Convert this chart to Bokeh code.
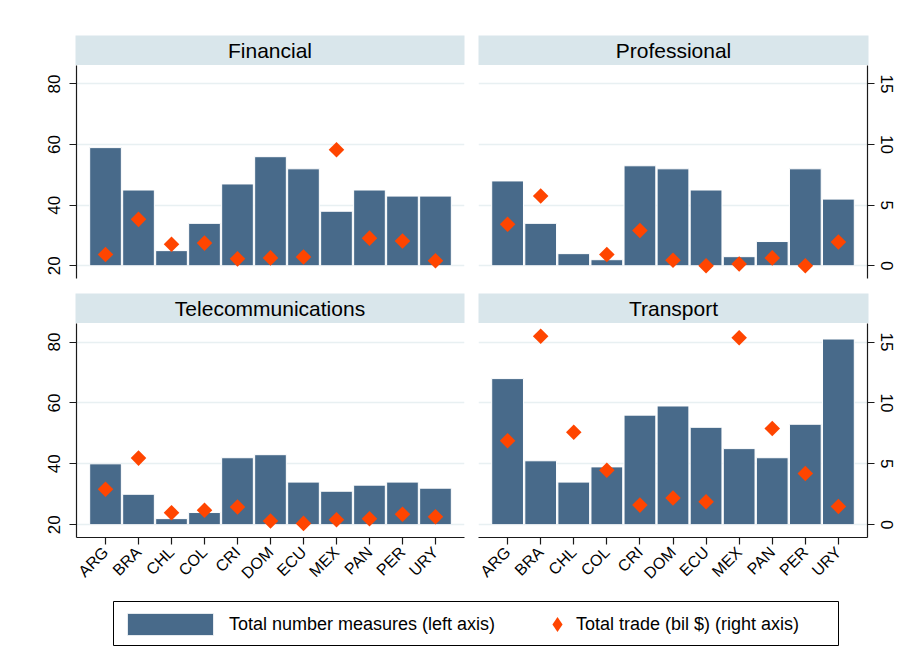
import math
from bokeh.plotting import figure
from bokeh.models import (Range1d, FactorRange, LinearAxis, FixedTicker, Grid,
                          Label, Legend, LegendItem, ColumnDataSource)
from bokeh.layouts import row, column
from bokeh.embed import file_html
from bokeh.resources import INLINE

# ---------------- data ----------------
countries = ["ARG", "BRA", "CHL", "COL", "CRI", "DOM", "ECU", "MEX", "PAN", "PER", "URY"]

financial_measures = [59, 45, 25, 34, 47, 56, 52, 38, 45, 43, 43]
financial_trade = [0.93, 3.83, 1.77, 1.87, 0.57, 0.65, 0.73, 9.57, 2.28, 2.04, 0.41]

professional_measures = [48, 34, 24, 22, 53, 52, 45, 23, 28, 52, 42]
professional_trade = [3.42, 5.76, float("nan"), 0.93, 2.91, 0.46, 0.0, 0.14, 0.65, 0.0, 1.96]

telecom_measures = [40, 30, 22, 24, 42, 43, 34, 31, 33, 34, 32]
telecom_trade = [2.92, 5.47, 0.99, 1.19, 1.46, 0.30, 0.11, 0.41, 0.49, 0.86, 0.66]

transport_measures = [68, 41, 34, 39, 56, 59, 52, 45, 42, 53, 81]
transport_trade = [6.9, 15.47, 7.6, 4.47, 1.61, 2.2, 1.88, 15.36, 7.9, 4.2, 1.5]

left_ticks = [20, 40, 60, 80]
right_ticks = [0, 5, 10, 15]
bar_base = 20

# ---------------- style ----------------
FONT = "Liberation Sans"
BAR = "#486a8a"
DIA = "#ff4500"
HDR = "#d9e6eb"
GRID = "#e8f0f2"
AX = "#1a1a1a"
Y_LO, Y_HI = 15.8, 86.1
T_LO, T_HI = (Y_LO - 20) / 4, (Y_HI - 20) / 4
TICK_FS = "17px"


def header(title, width, left, right, top):
    h = figure(width=width, height=top + 30, x_range=Range1d(0, 1), y_range=Range1d(0, 1),
               x_axis_location=None, y_axis_location=None, toolbar_location=None,
               output_backend="svg", min_border_left=left, min_border_right=right,
               min_border_top=top, min_border_bottom=0, outline_line_color=None,
               background_fill_color=HDR, border_fill_color="white")
    h.xgrid.visible = False
    h.ygrid.visible = False
    h.add_layout(Label(x=0.5, y=0.5, text=title, text_align="center", text_baseline="middle",
                       text_font=FONT, text_font_size="21px", text_color="black"))
    return h


def style_axis(ax, size):
    ax.major_tick_out = 7
    ax.major_tick_in = 0
    ax.minor_tick_out = 0
    ax.minor_tick_in = 0
    ax.axis_line_color = AX
    ax.axis_line_width = 1.2
    ax.major_tick_line_color = AX
    ax.major_tick_line_width = 1.2
    ax.major_label_text_font = FONT
    ax.major_label_text_font_size = size
    ax.major_label_text_color = "black"


def panel(measures, trade, side, bottom_axis, width, left, right, bottom, height):
    src = ColumnDataSource(dict(country=countries, measures=measures, trade=trade))
    p = figure(width=width, height=height,
               x_range=FactorRange(factors=countries, range_padding=0.069),
               y_range=Range1d(Y_LO, Y_HI),
               x_axis_location="below" if bottom_axis else None, y_axis_location=None,
               toolbar_location=None, output_backend="svg",
               min_border_left=left, min_border_right=right, min_border_top=0,
               min_border_bottom=bottom, outline_line_color=None,
               background_fill_color="white", border_fill_color="white")
    p.extra_y_ranges = {"trade": Range1d(T_LO, T_HI)}
    p.xgrid.visible = False
    p.ygrid.visible = False
    p.add_layout(Grid(dimension=1, ticker=FixedTicker(ticks=left_ticks),
                      grid_line_color=GRID, grid_line_width=1.5))
    p.vbar(x="country", top="measures", bottom=bar_base, width=0.96, source=src,
           fill_color=BAR, line_color="white", line_width=1)
    p.scatter(x="country", y="trade", y_range_name="trade", marker="square",
              angle=math.pi / 4, size=11, fill_color=DIA, line_color=None, source=src)
    if side == "left":
        ax = LinearAxis(ticker=FixedTicker(ticks=left_ticks))
        p.add_layout(ax, "left")
        style_axis(ax, TICK_FS)
        ax.major_label_orientation = "vertical"
        ax.major_label_standoff = 9
    else:
        ax = LinearAxis(y_range_name="trade", ticker=FixedTicker(ticks=right_ticks))
        p.add_layout(ax, "right")
        style_axis(ax, TICK_FS)
        ax.major_label_orientation = "vertical"
        ax.major_label_standoff = 6
    if bottom_axis:
        xa = p.xaxis[0]
        style_axis(xa, "16px")
        xa.major_label_orientation = math.pi / 4
        xa.major_label_standoff = 5
    return p


WL, WR = 470, 430

hTL = header("Financial", WL, 75, 6, 35)
hTR = header("Professional", WR, 8, 32, 35)
pTL = panel(financial_measures, financial_trade, "left", False, WL, 76, 6, 15, 228)
pTR = panel(professional_measures, professional_trade, "right", False, WR, 8, 33, 15, 228)
hBL = header("Telecommunications", WL, 75, 6, 0)
hBR = header("Transport", WR, 8, 32, 0)
pBL = panel(telecom_measures, telecom_trade, "left", True, WL, 76, 6, 56, 270)
pBR = panel(transport_measures, transport_trade, "right", True, WR, 8, 33, 56, 270)

# ---------------- legend ----------------
lf = figure(width=WL + WR, height=55, x_range=FactorRange(factors=countries),
            y_range=Range1d(Y_LO, Y_HI),
            x_axis_location=None, y_axis_location=None, toolbar_location=None,
            output_backend="svg", min_border_left=113, min_border_right=WL + WR - 838,
            min_border_top=8, min_border_bottom=3, outline_line_color="black",
            outline_line_width=1, background_fill_color="white", border_fill_color="white")
lf.extra_y_ranges = {"trade": Range1d(T_LO, T_HI)}
lf.xgrid.visible = False
lf.ygrid.visible = False
lsrc = ColumnDataSource(dict(country=countries, measures=telecom_measures, trade=telecom_trade))
rb = lf.vbar(x="country", top="measures", bottom=bar_base, width=0.96, source=lsrc,
             fill_color=BAR, line_color="white", line_width=1, visible=False)
rd = lf.scatter(x="country", y="trade", y_range_name="trade", marker="diamond", size=11,
                fill_color=DIA, line_color=None, source=lsrc, visible=False)

legA = Legend(items=[LegendItem(label="Total number measures (left axis)", renderers=[rb])],
              location=(3, 7), glyph_width=108, glyph_height=28, label_standoff=5,
              padding=0, margin=0, spacing=0, border_line_color=None,
              background_fill_alpha=0, label_text_font=FONT, label_text_font_size="18px",
              label_text_color="black")
legB = Legend(items=[LegendItem(label="Total trade (bil $) (right axis)", renderers=[rd])],
              location=(425, 2), glyph_width=38, glyph_height=38, label_standoff=0,
              padding=0, margin=0, spacing=0, border_line_color=None,
              background_fill_alpha=0, label_text_font=FONT, label_text_font_size="18px",
              label_text_color="black")
lf.add_layout(legA)
lf.add_layout(legB)

layout = column(row(hTL, hTR), row(pTL, pTR), row(hBL, hBR), row(pBL, pBR), lf)

open("out.html", "w").write(file_html(layout, INLINE))
